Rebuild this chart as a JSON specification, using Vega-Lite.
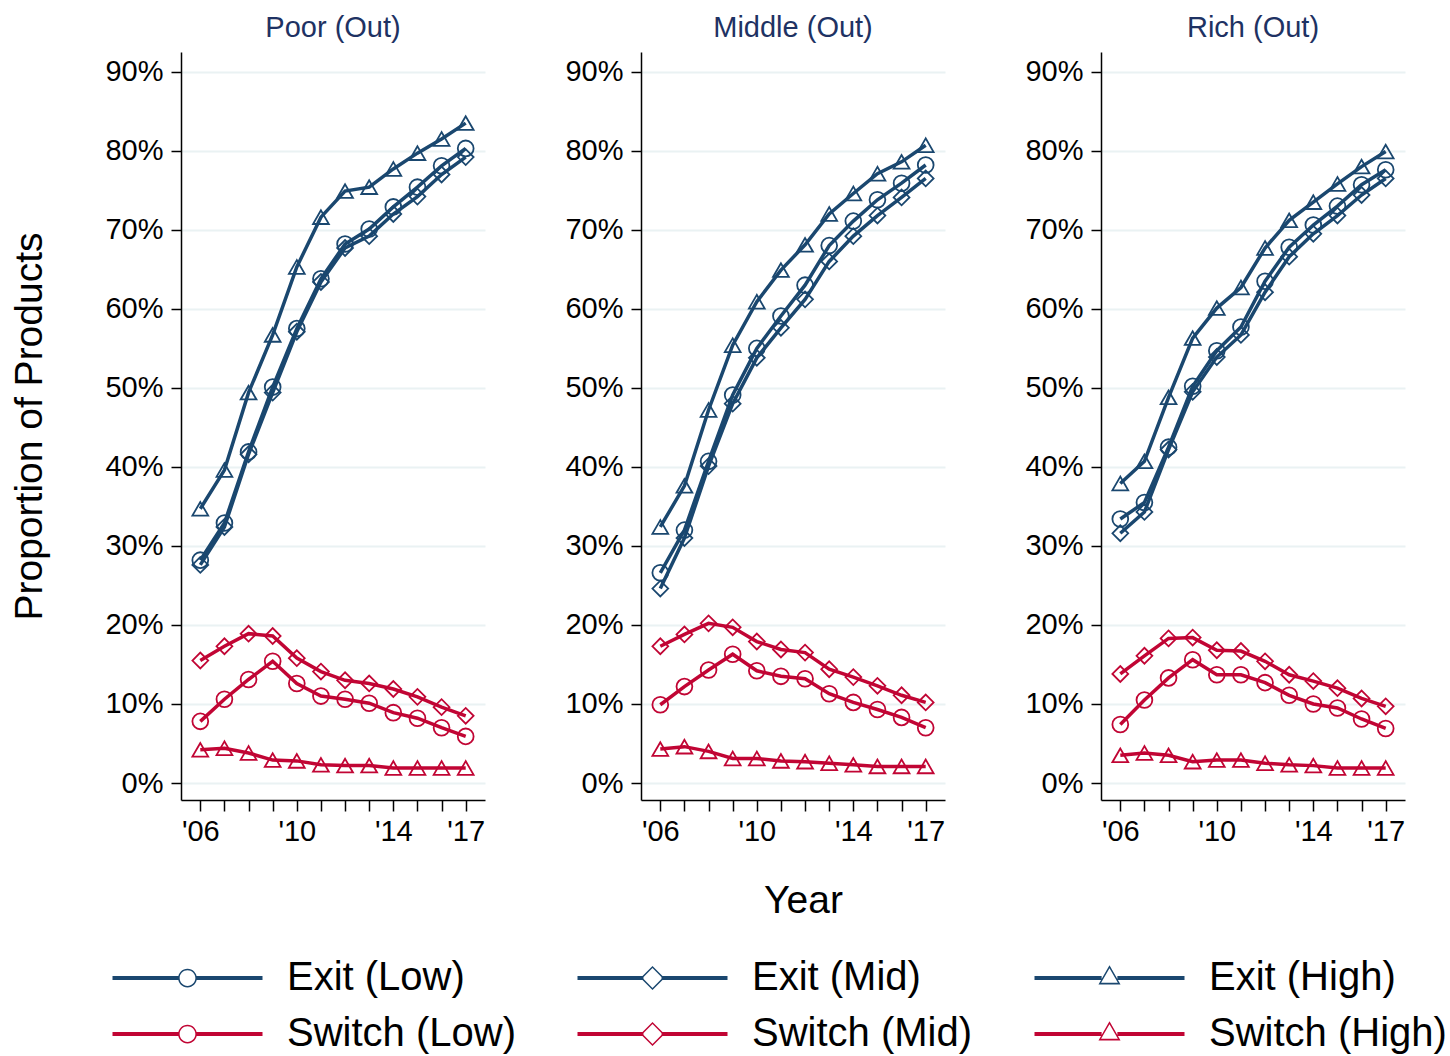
{
  "$schema": "https://vega.github.io/schema/vega-lite/v6.json",
  "padding": {"left": 10, "top": 14, "right": 5, "bottom": 5},
  "config": {
    "view": {"stroke": null},
    "font": "Liberation Sans",
    "axis": {"labelFont": "Liberation Sans", "titleFont": "Liberation Sans"}
  },
  "data": {"values": [
    {"panel":"Poor (Out)","series":"Exit (Low)","year":2006,"share":28.2},
    {"panel":"Poor (Out)","series":"Exit (Low)","year":2007,"share":32.9},
    {"panel":"Poor (Out)","series":"Exit (Low)","year":2008,"share":41.9},
    {"panel":"Poor (Out)","series":"Exit (Low)","year":2009,"share":50.1},
    {"panel":"Poor (Out)","series":"Exit (Low)","year":2010,"share":57.5},
    {"panel":"Poor (Out)","series":"Exit (Low)","year":2011,"share":63.8},
    {"panel":"Poor (Out)","series":"Exit (Low)","year":2012,"share":68.2},
    {"panel":"Poor (Out)","series":"Exit (Low)","year":2013,"share":70.1},
    {"panel":"Poor (Out)","series":"Exit (Low)","year":2014,"share":72.9},
    {"panel":"Poor (Out)","series":"Exit (Low)","year":2015,"share":75.4},
    {"panel":"Poor (Out)","series":"Exit (Low)","year":2016,"share":78.1},
    {"panel":"Poor (Out)","series":"Exit (Low)","year":2017,"share":80.3},
    {"panel":"Poor (Out)","series":"Exit (Mid)","year":2006,"share":27.6},
    {"panel":"Poor (Out)","series":"Exit (Mid)","year":2007,"share":32.4},
    {"panel":"Poor (Out)","series":"Exit (Mid)","year":2008,"share":41.6},
    {"panel":"Poor (Out)","series":"Exit (Mid)","year":2009,"share":49.4},
    {"panel":"Poor (Out)","series":"Exit (Mid)","year":2010,"share":57.1},
    {"panel":"Poor (Out)","series":"Exit (Mid)","year":2011,"share":63.4},
    {"panel":"Poor (Out)","series":"Exit (Mid)","year":2012,"share":67.7},
    {"panel":"Poor (Out)","series":"Exit (Mid)","year":2013,"share":69.2},
    {"panel":"Poor (Out)","series":"Exit (Mid)","year":2014,"share":72.0},
    {"panel":"Poor (Out)","series":"Exit (Mid)","year":2015,"share":74.2},
    {"panel":"Poor (Out)","series":"Exit (Mid)","year":2016,"share":77.0},
    {"panel":"Poor (Out)","series":"Exit (Mid)","year":2017,"share":79.2},
    {"panel":"Poor (Out)","series":"Exit (High)","year":2006,"share":34.7},
    {"panel":"Poor (Out)","series":"Exit (High)","year":2007,"share":39.6},
    {"panel":"Poor (Out)","series":"Exit (High)","year":2008,"share":49.4},
    {"panel":"Poor (Out)","series":"Exit (High)","year":2009,"share":56.7},
    {"panel":"Poor (Out)","series":"Exit (High)","year":2010,"share":65.3},
    {"panel":"Poor (Out)","series":"Exit (High)","year":2011,"share":71.6},
    {"panel":"Poor (Out)","series":"Exit (High)","year":2012,"share":74.9},
    {"panel":"Poor (Out)","series":"Exit (High)","year":2013,"share":75.4},
    {"panel":"Poor (Out)","series":"Exit (High)","year":2014,"share":77.7},
    {"panel":"Poor (Out)","series":"Exit (High)","year":2015,"share":79.7},
    {"panel":"Poor (Out)","series":"Exit (High)","year":2016,"share":81.5},
    {"panel":"Poor (Out)","series":"Exit (High)","year":2017,"share":83.5},
    {"panel":"Poor (Out)","series":"Switch (Low)","year":2006,"share":7.8},
    {"panel":"Poor (Out)","series":"Switch (Low)","year":2007,"share":10.6},
    {"panel":"Poor (Out)","series":"Switch (Low)","year":2008,"share":13.1},
    {"panel":"Poor (Out)","series":"Switch (Low)","year":2009,"share":15.4},
    {"panel":"Poor (Out)","series":"Switch (Low)","year":2010,"share":12.6},
    {"panel":"Poor (Out)","series":"Switch (Low)","year":2011,"share":11.0},
    {"panel":"Poor (Out)","series":"Switch (Low)","year":2012,"share":10.6},
    {"panel":"Poor (Out)","series":"Switch (Low)","year":2013,"share":10.1},
    {"panel":"Poor (Out)","series":"Switch (Low)","year":2014,"share":8.9},
    {"panel":"Poor (Out)","series":"Switch (Low)","year":2015,"share":8.2},
    {"panel":"Poor (Out)","series":"Switch (Low)","year":2016,"share":7.0},
    {"panel":"Poor (Out)","series":"Switch (Low)","year":2017,"share":5.9},
    {"panel":"Poor (Out)","series":"Switch (Mid)","year":2006,"share":15.5},
    {"panel":"Poor (Out)","series":"Switch (Mid)","year":2007,"share":17.3},
    {"panel":"Poor (Out)","series":"Switch (Mid)","year":2008,"share":18.9},
    {"panel":"Poor (Out)","series":"Switch (Mid)","year":2009,"share":18.6},
    {"panel":"Poor (Out)","series":"Switch (Mid)","year":2010,"share":15.8},
    {"panel":"Poor (Out)","series":"Switch (Mid)","year":2011,"share":14.1},
    {"panel":"Poor (Out)","series":"Switch (Mid)","year":2012,"share":13.0},
    {"panel":"Poor (Out)","series":"Switch (Mid)","year":2013,"share":12.6},
    {"panel":"Poor (Out)","series":"Switch (Mid)","year":2014,"share":11.9},
    {"panel":"Poor (Out)","series":"Switch (Mid)","year":2015,"share":10.9},
    {"panel":"Poor (Out)","series":"Switch (Mid)","year":2016,"share":9.6},
    {"panel":"Poor (Out)","series":"Switch (Mid)","year":2017,"share":8.5},
    {"panel":"Poor (Out)","series":"Switch (High)","year":2006,"share":4.2},
    {"panel":"Poor (Out)","series":"Switch (High)","year":2007,"share":4.4},
    {"panel":"Poor (Out)","series":"Switch (High)","year":2008,"share":3.8},
    {"panel":"Poor (Out)","series":"Switch (High)","year":2009,"share":2.9},
    {"panel":"Poor (Out)","series":"Switch (High)","year":2010,"share":2.8},
    {"panel":"Poor (Out)","series":"Switch (High)","year":2011,"share":2.3},
    {"panel":"Poor (Out)","series":"Switch (High)","year":2012,"share":2.2},
    {"panel":"Poor (Out)","series":"Switch (High)","year":2013,"share":2.2},
    {"panel":"Poor (Out)","series":"Switch (High)","year":2014,"share":1.9},
    {"panel":"Poor (Out)","series":"Switch (High)","year":2015,"share":1.9},
    {"panel":"Poor (Out)","series":"Switch (High)","year":2016,"share":1.9},
    {"panel":"Poor (Out)","series":"Switch (High)","year":2017,"share":1.9},
    {"panel":"Middle (Out)","series":"Exit (Low)","year":2006,"share":26.6},
    {"panel":"Middle (Out)","series":"Exit (Low)","year":2007,"share":32.0},
    {"panel":"Middle (Out)","series":"Exit (Low)","year":2008,"share":40.7},
    {"panel":"Middle (Out)","series":"Exit (Low)","year":2009,"share":49.1},
    {"panel":"Middle (Out)","series":"Exit (Low)","year":2010,"share":55.0},
    {"panel":"Middle (Out)","series":"Exit (Low)","year":2011,"share":59.1},
    {"panel":"Middle (Out)","series":"Exit (Low)","year":2012,"share":63.0},
    {"panel":"Middle (Out)","series":"Exit (Low)","year":2013,"share":68.0},
    {"panel":"Middle (Out)","series":"Exit (Low)","year":2014,"share":71.1},
    {"panel":"Middle (Out)","series":"Exit (Low)","year":2015,"share":73.8},
    {"panel":"Middle (Out)","series":"Exit (Low)","year":2016,"share":75.9},
    {"panel":"Middle (Out)","series":"Exit (Low)","year":2017,"share":78.2},
    {"panel":"Middle (Out)","series":"Exit (Mid)","year":2006,"share":24.6},
    {"panel":"Middle (Out)","series":"Exit (Mid)","year":2007,"share":31.0},
    {"panel":"Middle (Out)","series":"Exit (Mid)","year":2008,"share":40.1},
    {"panel":"Middle (Out)","series":"Exit (Mid)","year":2009,"share":48.0},
    {"panel":"Middle (Out)","series":"Exit (Mid)","year":2010,"share":53.8},
    {"panel":"Middle (Out)","series":"Exit (Mid)","year":2011,"share":57.6},
    {"panel":"Middle (Out)","series":"Exit (Mid)","year":2012,"share":61.2},
    {"panel":"Middle (Out)","series":"Exit (Mid)","year":2013,"share":66.0},
    {"panel":"Middle (Out)","series":"Exit (Mid)","year":2014,"share":69.2},
    {"panel":"Middle (Out)","series":"Exit (Mid)","year":2015,"share":71.8},
    {"panel":"Middle (Out)","series":"Exit (Mid)","year":2016,"share":74.1},
    {"panel":"Middle (Out)","series":"Exit (Mid)","year":2017,"share":76.5},
    {"panel":"Middle (Out)","series":"Exit (High)","year":2006,"share":32.4},
    {"panel":"Middle (Out)","series":"Exit (High)","year":2007,"share":37.6},
    {"panel":"Middle (Out)","series":"Exit (High)","year":2008,"share":47.2},
    {"panel":"Middle (Out)","series":"Exit (High)","year":2009,"share":55.4},
    {"panel":"Middle (Out)","series":"Exit (High)","year":2010,"share":60.9},
    {"panel":"Middle (Out)","series":"Exit (High)","year":2011,"share":64.9},
    {"panel":"Middle (Out)","series":"Exit (High)","year":2012,"share":68.1},
    {"panel":"Middle (Out)","series":"Exit (High)","year":2013,"share":72.0},
    {"panel":"Middle (Out)","series":"Exit (High)","year":2014,"share":74.6},
    {"panel":"Middle (Out)","series":"Exit (High)","year":2015,"share":77.1},
    {"panel":"Middle (Out)","series":"Exit (High)","year":2016,"share":78.6},
    {"panel":"Middle (Out)","series":"Exit (High)","year":2017,"share":80.7},
    {"panel":"Middle (Out)","series":"Switch (Low)","year":2006,"share":9.9},
    {"panel":"Middle (Out)","series":"Switch (Low)","year":2007,"share":12.2},
    {"panel":"Middle (Out)","series":"Switch (Low)","year":2008,"share":14.3},
    {"panel":"Middle (Out)","series":"Switch (Low)","year":2009,"share":16.3},
    {"panel":"Middle (Out)","series":"Switch (Low)","year":2010,"share":14.2},
    {"panel":"Middle (Out)","series":"Switch (Low)","year":2011,"share":13.5},
    {"panel":"Middle (Out)","series":"Switch (Low)","year":2012,"share":13.2},
    {"panel":"Middle (Out)","series":"Switch (Low)","year":2013,"share":11.3},
    {"panel":"Middle (Out)","series":"Switch (Low)","year":2014,"share":10.2},
    {"panel":"Middle (Out)","series":"Switch (Low)","year":2015,"share":9.3},
    {"panel":"Middle (Out)","series":"Switch (Low)","year":2016,"share":8.3},
    {"panel":"Middle (Out)","series":"Switch (Low)","year":2017,"share":7.0},
    {"panel":"Middle (Out)","series":"Switch (Mid)","year":2006,"share":17.3},
    {"panel":"Middle (Out)","series":"Switch (Mid)","year":2007,"share":18.8},
    {"panel":"Middle (Out)","series":"Switch (Mid)","year":2008,"share":20.2},
    {"panel":"Middle (Out)","series":"Switch (Mid)","year":2009,"share":19.7},
    {"panel":"Middle (Out)","series":"Switch (Mid)","year":2010,"share":17.9},
    {"panel":"Middle (Out)","series":"Switch (Mid)","year":2011,"share":16.9},
    {"panel":"Middle (Out)","series":"Switch (Mid)","year":2012,"share":16.5},
    {"panel":"Middle (Out)","series":"Switch (Mid)","year":2013,"share":14.4},
    {"panel":"Middle (Out)","series":"Switch (Mid)","year":2014,"share":13.4},
    {"panel":"Middle (Out)","series":"Switch (Mid)","year":2015,"share":12.3},
    {"panel":"Middle (Out)","series":"Switch (Mid)","year":2016,"share":11.1},
    {"panel":"Middle (Out)","series":"Switch (Mid)","year":2017,"share":10.2},
    {"panel":"Middle (Out)","series":"Switch (High)","year":2006,"share":4.3},
    {"panel":"Middle (Out)","series":"Switch (High)","year":2007,"share":4.6},
    {"panel":"Middle (Out)","series":"Switch (High)","year":2008,"share":4.0},
    {"panel":"Middle (Out)","series":"Switch (High)","year":2009,"share":3.1},
    {"panel":"Middle (Out)","series":"Switch (High)","year":2010,"share":3.1},
    {"panel":"Middle (Out)","series":"Switch (High)","year":2011,"share":2.8},
    {"panel":"Middle (Out)","series":"Switch (High)","year":2012,"share":2.7},
    {"panel":"Middle (Out)","series":"Switch (High)","year":2013,"share":2.5},
    {"panel":"Middle (Out)","series":"Switch (High)","year":2014,"share":2.3},
    {"panel":"Middle (Out)","series":"Switch (High)","year":2015,"share":2.1},
    {"panel":"Middle (Out)","series":"Switch (High)","year":2016,"share":2.1},
    {"panel":"Middle (Out)","series":"Switch (High)","year":2017,"share":2.1},
    {"panel":"Rich (Out)","series":"Exit (Low)","year":2006,"share":33.4},
    {"panel":"Rich (Out)","series":"Exit (Low)","year":2007,"share":35.5},
    {"panel":"Rich (Out)","series":"Exit (Low)","year":2008,"share":42.5},
    {"panel":"Rich (Out)","series":"Exit (Low)","year":2009,"share":50.2},
    {"panel":"Rich (Out)","series":"Exit (Low)","year":2010,"share":54.7},
    {"panel":"Rich (Out)","series":"Exit (Low)","year":2011,"share":57.7},
    {"panel":"Rich (Out)","series":"Exit (Low)","year":2012,"share":63.5},
    {"panel":"Rich (Out)","series":"Exit (Low)","year":2013,"share":67.8},
    {"panel":"Rich (Out)","series":"Exit (Low)","year":2014,"share":70.6},
    {"panel":"Rich (Out)","series":"Exit (Low)","year":2015,"share":73.0},
    {"panel":"Rich (Out)","series":"Exit (Low)","year":2016,"share":75.7},
    {"panel":"Rich (Out)","series":"Exit (Low)","year":2017,"share":77.6},
    {"panel":"Rich (Out)","series":"Exit (Mid)","year":2006,"share":31.6},
    {"panel":"Rich (Out)","series":"Exit (Mid)","year":2007,"share":34.3},
    {"panel":"Rich (Out)","series":"Exit (Mid)","year":2008,"share":42.2},
    {"panel":"Rich (Out)","series":"Exit (Mid)","year":2009,"share":49.5},
    {"panel":"Rich (Out)","series":"Exit (Mid)","year":2010,"share":53.9},
    {"panel":"Rich (Out)","series":"Exit (Mid)","year":2011,"share":56.7},
    {"panel":"Rich (Out)","series":"Exit (Mid)","year":2012,"share":62.1},
    {"panel":"Rich (Out)","series":"Exit (Mid)","year":2013,"share":66.6},
    {"panel":"Rich (Out)","series":"Exit (Mid)","year":2014,"share":69.5},
    {"panel":"Rich (Out)","series":"Exit (Mid)","year":2015,"share":71.8},
    {"panel":"Rich (Out)","series":"Exit (Mid)","year":2016,"share":74.4},
    {"panel":"Rich (Out)","series":"Exit (Mid)","year":2017,"share":76.5},
    {"panel":"Rich (Out)","series":"Exit (High)","year":2006,"share":37.9},
    {"panel":"Rich (Out)","series":"Exit (High)","year":2007,"share":40.7},
    {"panel":"Rich (Out)","series":"Exit (High)","year":2008,"share":48.8},
    {"panel":"Rich (Out)","series":"Exit (High)","year":2009,"share":56.3},
    {"panel":"Rich (Out)","series":"Exit (High)","year":2010,"share":60.1},
    {"panel":"Rich (Out)","series":"Exit (High)","year":2011,"share":62.7},
    {"panel":"Rich (Out)","series":"Exit (High)","year":2012,"share":67.7},
    {"panel":"Rich (Out)","series":"Exit (High)","year":2013,"share":71.2},
    {"panel":"Rich (Out)","series":"Exit (High)","year":2014,"share":73.5},
    {"panel":"Rich (Out)","series":"Exit (High)","year":2015,"share":75.8},
    {"panel":"Rich (Out)","series":"Exit (High)","year":2016,"share":78.0},
    {"panel":"Rich (Out)","series":"Exit (High)","year":2017,"share":79.9},
    {"panel":"Rich (Out)","series":"Switch (Low)","year":2006,"share":7.4},
    {"panel":"Rich (Out)","series":"Switch (Low)","year":2007,"share":10.5},
    {"panel":"Rich (Out)","series":"Switch (Low)","year":2008,"share":13.3},
    {"panel":"Rich (Out)","series":"Switch (Low)","year":2009,"share":15.6},
    {"panel":"Rich (Out)","series":"Switch (Low)","year":2010,"share":13.7},
    {"panel":"Rich (Out)","series":"Switch (Low)","year":2011,"share":13.7},
    {"panel":"Rich (Out)","series":"Switch (Low)","year":2012,"share":12.7},
    {"panel":"Rich (Out)","series":"Switch (Low)","year":2013,"share":11.1},
    {"panel":"Rich (Out)","series":"Switch (Low)","year":2014,"share":10.0},
    {"panel":"Rich (Out)","series":"Switch (Low)","year":2015,"share":9.5},
    {"panel":"Rich (Out)","series":"Switch (Low)","year":2016,"share":8.1},
    {"panel":"Rich (Out)","series":"Switch (Low)","year":2017,"share":6.9},
    {"panel":"Rich (Out)","series":"Switch (Mid)","year":2006,"share":13.8},
    {"panel":"Rich (Out)","series":"Switch (Mid)","year":2007,"share":16.1},
    {"panel":"Rich (Out)","series":"Switch (Mid)","year":2008,"share":18.3},
    {"panel":"Rich (Out)","series":"Switch (Mid)","year":2009,"share":18.4},
    {"panel":"Rich (Out)","series":"Switch (Mid)","year":2010,"share":16.8},
    {"panel":"Rich (Out)","series":"Switch (Mid)","year":2011,"share":16.7},
    {"panel":"Rich (Out)","series":"Switch (Mid)","year":2012,"share":15.4},
    {"panel":"Rich (Out)","series":"Switch (Mid)","year":2013,"share":13.7},
    {"panel":"Rich (Out)","series":"Switch (Mid)","year":2014,"share":12.9},
    {"panel":"Rich (Out)","series":"Switch (Mid)","year":2015,"share":12.0},
    {"panel":"Rich (Out)","series":"Switch (Mid)","year":2016,"share":10.7},
    {"panel":"Rich (Out)","series":"Switch (Mid)","year":2017,"share":9.7},
    {"panel":"Rich (Out)","series":"Switch (High)","year":2006,"share":3.5},
    {"panel":"Rich (Out)","series":"Switch (High)","year":2007,"share":3.8},
    {"panel":"Rich (Out)","series":"Switch (High)","year":2008,"share":3.5},
    {"panel":"Rich (Out)","series":"Switch (High)","year":2009,"share":2.7},
    {"panel":"Rich (Out)","series":"Switch (High)","year":2010,"share":2.9},
    {"panel":"Rich (Out)","series":"Switch (High)","year":2011,"share":2.9},
    {"panel":"Rich (Out)","series":"Switch (High)","year":2012,"share":2.5},
    {"panel":"Rich (Out)","series":"Switch (High)","year":2013,"share":2.3},
    {"panel":"Rich (Out)","series":"Switch (High)","year":2014,"share":2.2},
    {"panel":"Rich (Out)","series":"Switch (High)","year":2015,"share":1.9},
    {"panel":"Rich (Out)","series":"Switch (High)","year":2016,"share":1.9},
    {"panel":"Rich (Out)","series":"Switch (High)","year":2017,"share":1.9}
  ]},
  "spacing": 79,
  "hconcat": [
    {
      "title": {"text": "Poor (Out)", "fontSize": 29, "color": "#1e3263", "font": "Liberation Sans", "fontWeight": "normal", "anchor": "middle", "frame": "group", "offset": 9},
      "transform": [{"filter": "datum.panel === 'Poor (Out)'"}],
      "width": 304, "height": 748,
      "encoding": {
        "x": {"field": "year", "type": "quantitative", "scale": {"domain": [2005.2, 2017.8], "nice": false, "zero": false},
          "axis": {"title": null, "values": [2006,2007,2008,2009,2010,2011,2012,2013,2014,2015,2016,2017], "labelExpr": "indexof([2006,2010,2014,2017], datum.value) >= 0 ? \"'\" + slice(toString(datum.value), 2) : ''", "labelFontSize": 29, "labelColor": "#000000", "labelPadding": 6, "tickSize": 11, "tickWidth": 1.5, "tickColor": "#000000", "domainColor": "#000000", "domainWidth": 1.5, "grid": false, "labelFlush": false, "labelOverlap": false}},
        "y": {"field": "share", "type": "quantitative", "scale": {"domain": [-2.15, 92.5], "nice": false, "zero": false},
          "axis": {"title": "Proportion of Products", "titleFontSize": 39, "titleFontWeight": "normal", "titleColor": "#000000", "titlePadding": 55, "values": [0,10,20,30,40,50,60,70,80,90], "labelExpr": "datum.value + '%'", "labelFontSize": 29, "labelColor": "#000000", "labelPadding": 8, "tickSize": 10, "tickWidth": 1.5, "tickColor": "#000000", "domainColor": "#000000", "domainWidth": 1.5, "grid": true, "gridColor": "#eaf2f3", "gridWidth": 2}},
        "color": {"field": "series", "type": "nominal",
          "scale": {"domain": ["Exit (Low)","Exit (Mid)","Exit (High)","Switch (Low)","Switch (Mid)","Switch (High)"], "range": ["#1a476f","#1a476f","#1a476f","#c10534","#c10534","#c10534"]},
          "legend": {"title": null, "orient": "none", "legendX": -81, "legendY": 906, "direction": "horizontal", "columns": 3, "labelFontSize": 40, "labelFont": "Liberation Sans", "labelColor": "#000000", "labelLimit": 400, "labelOffset": 147, "symbolSize": 225, "symbolStrokeWidth": 0, "symbolOpacity": 1, "columnPadding": 49, "rowPadding": 16,
            "encode": {"symbols": {"update": {
              "shape": {"signal": "indexof(datum.value,'Low')>=0 ? 'M-1,-0.27H7.8V0.27H-1Z M10.2,-0.27H19V0.27H10.2Z M7.75,0A1.25,1.25 0 1,1 10.25,0A1.25,1.25 0 1,1 7.75,0Z M7.95,0A1.05,1.05 0 1,0 10.05,0A1.05,1.05 0 1,0 7.95,0Z' : indexof(datum.value,'Mid')>=0 ? 'M-1,-0.27H7.8V0.27H-1Z M10.2,-0.27H19V0.27H10.2Z M9,-1.6L10.6,0L9,1.6L7.4,0Z M9,-1.32L7.68,0L9,1.32L10.32,0Z' : 'M-1,-0.27H7.95V0.27H-1Z M10.05,-0.27H19V0.27H10.05Z M9,-1.69L10.47,0.85L7.53,0.85Z M9,-1.29L7.88,0.647L10.12,0.647Z'"},
              "fill": {"signal": "indexof(datum.value,'Exit')>=0 ? '#1a476f' : '#c10534'"},
              "stroke": {"value": "transparent"},
              "strokeWidth": {"value": 0},
              "opacity": {"value": 1}
            }}}}
        }
      },
      "layer": [
        {"mark": {"type": "line", "strokeWidth": 3.5}},
        {"transform": [{"filter": "indexof(datum.series, 'Low') >= 0"}], "mark": {"type": "point", "shape": "circle", "filled": false, "size": 250, "strokeWidth": 1.8, "opacity": 1}},
        {"transform": [{"filter": "indexof(datum.series, 'Mid') >= 0"}], "mark": {"type": "point", "shape": "diamond", "filled": false, "size": 250, "strokeWidth": 1.8, "opacity": 1}},
        {"transform": [{"filter": "indexof(datum.series, 'High') >= 0"}], "mark": {"type": "point", "shape": "triangle-up", "filled": false, "size": 250, "strokeWidth": 1.8, "opacity": 1}}
      ]
    },
    {
      "title": {"text": "Middle (Out)", "fontSize": 29, "color": "#1e3263", "font": "Liberation Sans", "fontWeight": "normal", "anchor": "middle", "frame": "group", "offset": 9},
      "transform": [{"filter": "datum.panel === 'Middle (Out)'"}],
      "width": 304, "height": 748,
      "encoding": {
        "x": {"field": "year", "type": "quantitative", "scale": {"domain": [2005.2, 2017.8], "nice": false, "zero": false},
          "axis": {"title": "Year", "titleFontSize": 39, "titleFontWeight": "normal", "titleColor": "#000000", "titlePadding": 35, "titleX": 162, "values": [2006,2007,2008,2009,2010,2011,2012,2013,2014,2015,2016,2017], "labelExpr": "indexof([2006,2010,2014,2017], datum.value) >= 0 ? \"'\" + slice(toString(datum.value), 2) : ''", "labelFontSize": 29, "labelColor": "#000000", "labelPadding": 6, "tickSize": 11, "tickWidth": 1.5, "tickColor": "#000000", "domainColor": "#000000", "domainWidth": 1.5, "grid": false, "labelFlush": false, "labelOverlap": false}},
        "y": {"field": "share", "type": "quantitative", "scale": {"domain": [-2.15, 92.5], "nice": false, "zero": false},
          "axis": {"title": null, "values": [0,10,20,30,40,50,60,70,80,90], "labelExpr": "datum.value + '%'", "labelFontSize": 29, "labelColor": "#000000", "labelPadding": 8, "tickSize": 10, "tickWidth": 1.5, "tickColor": "#000000", "domainColor": "#000000", "domainWidth": 1.5, "grid": true, "gridColor": "#eaf2f3", "gridWidth": 2}},
        "color": {"field": "series", "type": "nominal"}
      },
      "layer": [
        {"mark": {"type": "line", "strokeWidth": 3.5}},
        {"transform": [{"filter": "indexof(datum.series, 'Low') >= 0"}], "mark": {"type": "point", "shape": "circle", "filled": false, "size": 250, "strokeWidth": 1.8, "opacity": 1}},
        {"transform": [{"filter": "indexof(datum.series, 'Mid') >= 0"}], "mark": {"type": "point", "shape": "diamond", "filled": false, "size": 250, "strokeWidth": 1.8, "opacity": 1}},
        {"transform": [{"filter": "indexof(datum.series, 'High') >= 0"}], "mark": {"type": "point", "shape": "triangle-up", "filled": false, "size": 250, "strokeWidth": 1.8, "opacity": 1}}
      ]
    },
    {
      "title": {"text": "Rich (Out)", "fontSize": 29, "color": "#1e3263", "font": "Liberation Sans", "fontWeight": "normal", "anchor": "middle", "frame": "group", "offset": 9},
      "transform": [{"filter": "datum.panel === 'Rich (Out)'"}],
      "width": 304, "height": 748,
      "encoding": {
        "x": {"field": "year", "type": "quantitative", "scale": {"domain": [2005.2, 2017.8], "nice": false, "zero": false},
          "axis": {"title": null, "values": [2006,2007,2008,2009,2010,2011,2012,2013,2014,2015,2016,2017], "labelExpr": "indexof([2006,2010,2014,2017], datum.value) >= 0 ? \"'\" + slice(toString(datum.value), 2) : ''", "labelFontSize": 29, "labelColor": "#000000", "labelPadding": 6, "tickSize": 11, "tickWidth": 1.5, "tickColor": "#000000", "domainColor": "#000000", "domainWidth": 1.5, "grid": false, "labelFlush": false, "labelOverlap": false}},
        "y": {"field": "share", "type": "quantitative", "scale": {"domain": [-2.15, 92.5], "nice": false, "zero": false},
          "axis": {"title": null, "values": [0,10,20,30,40,50,60,70,80,90], "labelExpr": "datum.value + '%'", "labelFontSize": 29, "labelColor": "#000000", "labelPadding": 8, "tickSize": 10, "tickWidth": 1.5, "tickColor": "#000000", "domainColor": "#000000", "domainWidth": 1.5, "grid": true, "gridColor": "#eaf2f3", "gridWidth": 2}},
        "color": {"field": "series", "type": "nominal"}
      },
      "layer": [
        {"mark": {"type": "line", "strokeWidth": 3.5}},
        {"transform": [{"filter": "indexof(datum.series, 'Low') >= 0"}], "mark": {"type": "point", "shape": "circle", "filled": false, "size": 250, "strokeWidth": 1.8, "opacity": 1}},
        {"transform": [{"filter": "indexof(datum.series, 'Mid') >= 0"}], "mark": {"type": "point", "shape": "diamond", "filled": false, "size": 250, "strokeWidth": 1.8, "opacity": 1}},
        {"transform": [{"filter": "indexof(datum.series, 'High') >= 0"}], "mark": {"type": "point", "shape": "triangle-up", "filled": false, "size": 250, "strokeWidth": 1.8, "opacity": 1}}
      ]
    }
  ]
}
